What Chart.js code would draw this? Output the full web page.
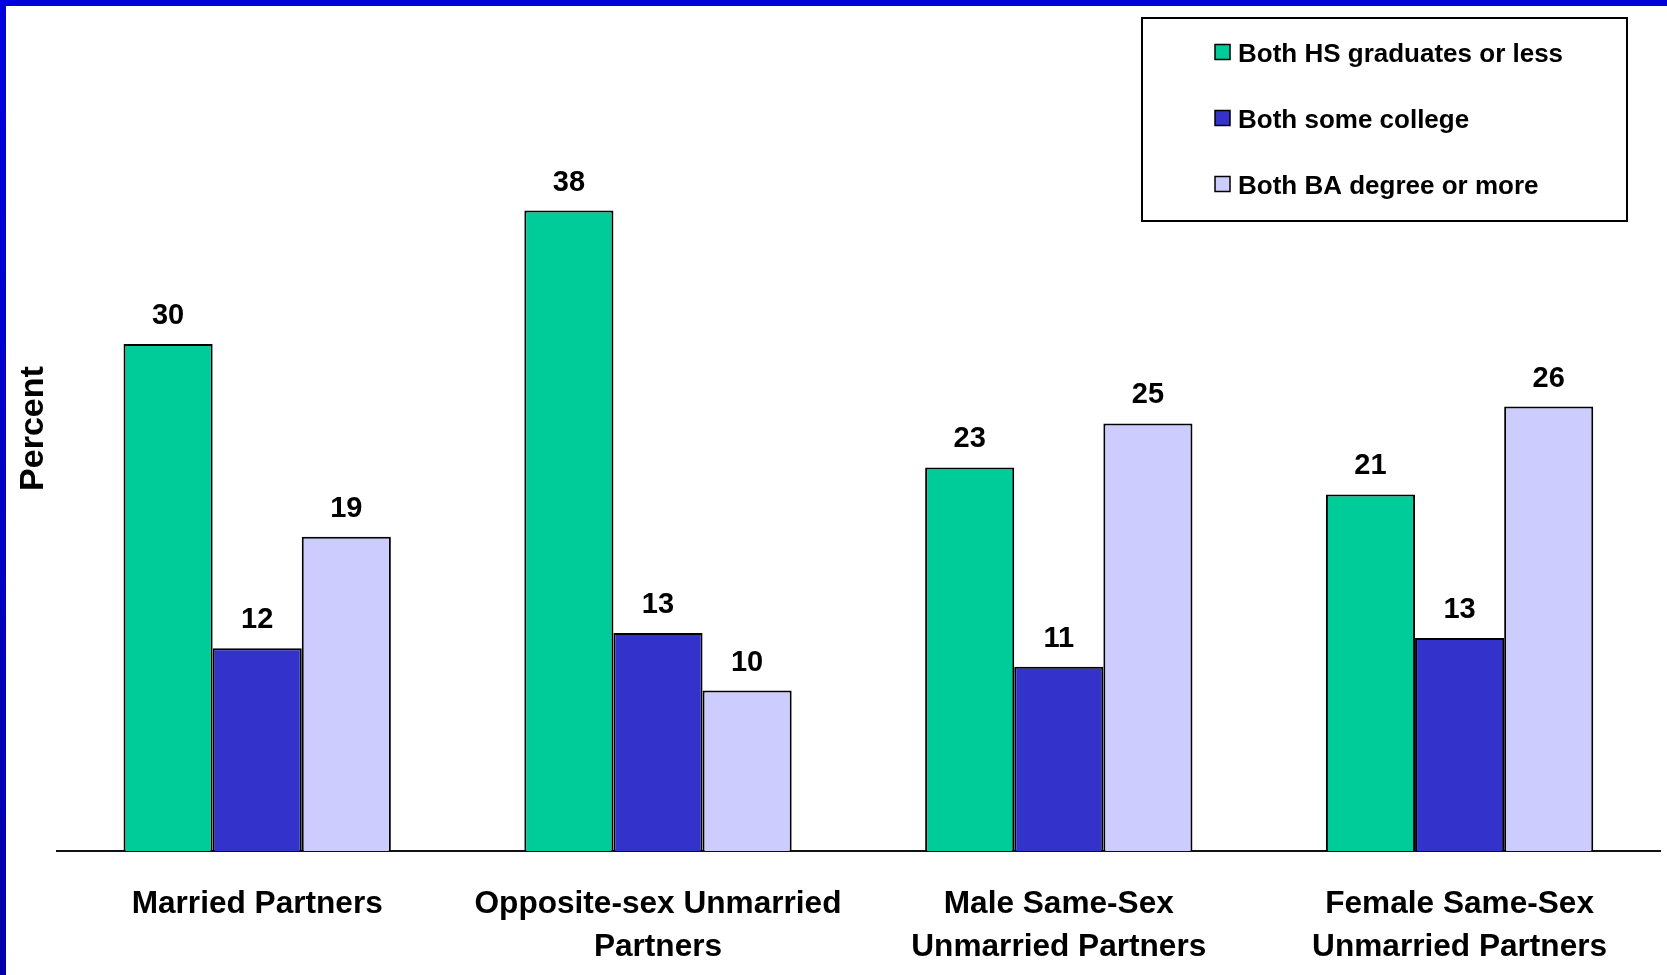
<!DOCTYPE html>
<html>
<head>
<meta charset="utf-8">
<script src="https://cdn.jsdelivr.net/npm/chart.js"></script>
<style>
  body { margin: 0; background: #fff; }
  #wrap { position: relative; width: 1667px; height: 975px; overflow: hidden; }
  #frameTop { position: absolute; left: 0; top: 0; width: 1667px; height: 6px; background: #0000dd; }
  #frameLeft { position: absolute; left: 0; top: 0; width: 6px; height: 975px; background: linear-gradient(#0000dd, #0000aa); }
</style>
</head>
<body>
<div id="wrap">
  <canvas id="eduChart"></canvas>
  <div id="frameTop"></div>
  <div id="frameLeft"></div>
</div>
<script>
// Kategorien und Werte
const categories = [
  ['Married Partners'],
  ['Opposite-sex Unmarried', 'Partners'],
  ['Male Same-Sex', 'Unmarried Partners'],
  ['Female Same-Sex', 'Unmarried Partners']
];
const seriesNames = ['Both HS graduates or less', 'Both some college', 'Both BA degree or more'];
const hsValues = [30.0, 37.9, 22.7, 21.1];
const someCollegeValues = [12.0, 12.9, 10.9, 12.6];
const baValues = [18.6, 9.5, 25.3, 26.3];
const seriesColors = ['#00cc99', '#3333cc', '#ccccff'];

const fontFamily = '"Liberation Sans", Arial, Helvetica, sans-serif';

// Zahlen über den Balken
const valueLabels = {
  id: 'valueLabels',
  afterDatasetsDraw(chart) {
    const ctx = chart.ctx;
    ctx.save();
    ctx.font = 'bold 29px ' + fontFamily;
    ctx.fillStyle = '#000';
    ctx.textAlign = 'center';
    ctx.textBaseline = 'alphabetic';
    chart.data.datasets.forEach((ds, i) => {
      chart.getDatasetMeta(i).data.forEach((bar, j) => {
        ctx.fillText(Math.round(ds.data[j]), bar.x, bar.y - 20);
      });
    });
    ctx.restore();
  }
};

// Legende mit Rahmen oben rechts
const boxedLegend = {
  id: 'boxedLegend',
  afterDraw(chart) {
    const ctx = chart.ctx;
    ctx.save();
    ctx.strokeStyle = '#000';
    ctx.lineWidth = 2;
    ctx.strokeRect(1142, 18, 485, 203);
    ctx.font = 'bold 26px ' + fontFamily;
    ctx.textAlign = 'left';
    ctx.textBaseline = 'alphabetic';
    chart.data.datasets.forEach((ds, i) => {
      const cy = 52 + i * 66;
      ctx.fillStyle = ds.backgroundColor;
      ctx.fillRect(1215, cy - 7.5, 15, 15);
      ctx.lineWidth = 1.5;
      ctx.strokeRect(1215, cy - 7.5, 15, 15);
      ctx.fillStyle = '#000';
      ctx.fillText(ds.label, 1238, cy + 9.5);
    });
    ctx.restore();
  }
};

const chartData = {
  labels: categories,
  datasets: [
    { label: seriesNames[0], data: hsValues, backgroundColor: seriesColors[0] },
    { label: seriesNames[1], data: someCollegeValues, backgroundColor: seriesColors[1] },
    { label: seriesNames[2], data: baValues, backgroundColor: seriesColors[2] }
  ].map(d => Object.assign(d, { borderColor: '#000', borderWidth: 2, categoryPercentage: 0.667, barPercentage: 1 }))
};

const config = {
  type: 'bar',
  data: chartData,
  options: {
    responsive: true,
    maintainAspectRatio: false,
    animation: false,
    layout: { padding: { left: 8, right: 7, top: 6, bottom: -25.3 } },
    plugins: {
      legend: { display: false },
      tooltip: { enabled: false }
    },
    scales: {
      x: {
        grid: { display: false, drawTicks: false },
        border: { display: true, color: '#111', width: 2 },
        ticks: {
          color: '#000',
          padding: 31,
          maxRotation: 0,
          autoSkip: false,
          font: { family: fontFamily, size: 31.6, weight: 'bold', lineHeight: 1.38 }
        }
      },
      y: {
        min: 0,
        max: 50,
        grid: { display: false, drawTicks: false },
        border: { display: false },
        ticks: { display: false },
        title: {
          display: true,
          text: 'Percent',
          color: '#000',
          padding: { top: 5, bottom: 3 },
          font: { family: fontFamily, size: 34, weight: 'bold', lineHeight: 1.2 }
        }
      }
    }
  },
  plugins: [valueLabels, boxedLegend]
};

new Chart(document.getElementById('eduChart'), config);
</script>
</body>
</html>
